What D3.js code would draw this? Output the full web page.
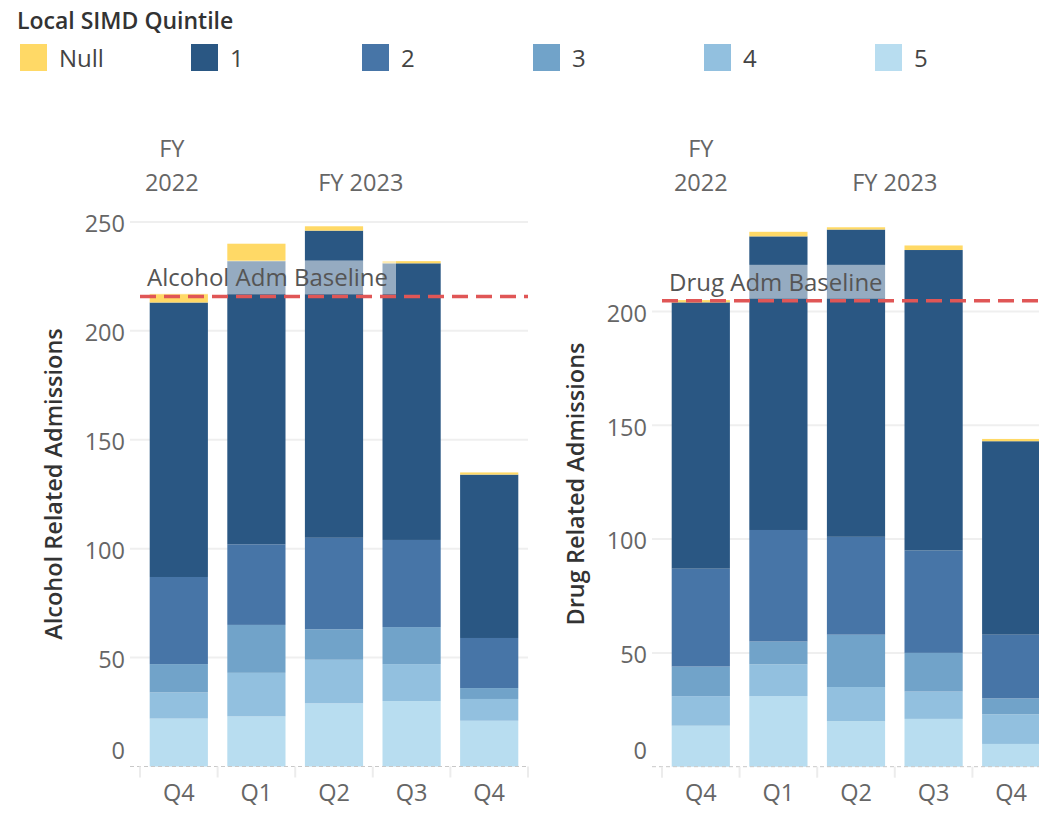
<!DOCTYPE html>
<html><head><meta charset="utf-8">
<script src="https://cdn.jsdelivr.net/npm/d3@7"></script>
<style>body{margin:0;background:#fff} svg{display:block} text{font-family:"Open Sans",sans-serif}</style>
</head><body><svg id="c" width="1039" height="818"></svg>
<script>
// ---- data ----
const quarters = ["Q4","Q1","Q2","Q3","Q4"];
const fiscalYears = ["FY 2022","FY 2023","FY 2023","FY 2023","FY 2023"];
const stackKeys = ["5","4","3","2","1","Null"]; // bottom to top
const legendKeys = ["Null","1","2","3","4","5"];
const legendColors = ["#ffd966","#2a5783","#4775a7","#71a3c9","#92c0df","#b8ddf0"];

const alcoholQ5   = [22, 23, 29, 30, 21];
const alcoholQ4   = [12, 20, 20, 17, 10];
const alcoholQ3   = [13, 22, 14, 17, 5];
const alcoholQ2   = [40, 37, 42, 40, 23];
const alcoholQ1   = [126, 130, 141, 127, 75];
const alcoholNull = [4, 8, 2, 1, 1];
const alcoholBaseline = 215.8;
const alcoholTicks = [0, 50, 100, 150, 200, 250];

const drugQ5   = [18, 31, 20, 21, 10];
const drugQ4   = [13, 14, 15, 12, 13];
const drugQ3   = [13, 10, 23, 17, 7];
const drugQ2   = [43, 49, 43, 45, 28];
const drugQ1   = [117, 129, 135, 132, 85];
const drugNull = [1, 2, 1, 2, 1];
const drugBaseline = 204.7;
const drugTicks = [0, 50, 100, 150, 200];

const color = d3.scaleOrdinal().domain(legendKeys).range(legendColors);
const svg = d3.select("#c");
const FS = 23.5;

// ---- legend ----
svg.append("text").attr("x", 17).attr("y", 29).attr("font-size", 23).attr("font-weight", 600)
  .attr("fill", "#333").text("Local SIMD Quintile");
const lx = d3.scalePoint().domain(legendKeys).range([20, 875]);
const lg = svg.append("g").selectAll("g").data(legendKeys).join("g")
  .attr("transform", d => `translate(${lx(d)},44)`);
lg.append("rect").attr("width", 27).attr("height", 27).attr("fill", d => color(d));
lg.append("text").attr("x", 39).attr("y", 23).attr("font-size", 24).attr("fill", "#444").text(d => d);

function buildRows(s5, s4, s3, s2, s1, sn) {
  return quarters.map((q, i) => ({i, "5": s5[i], "4": s4[i], "3": s3[i], "2": s2[i], "1": s1[i], "Null": sn[i]}));
}

function chart(cfg) {
  const rows = buildRows(...cfg.series);
  const x = d3.scaleBand().domain(d3.range(quarters.length)).range([cfg.x0, cfg.x1]).paddingInner(0.25).paddingOuter(0.125);
  const xb = d3.scaleBand().domain(d3.range(quarters.length)).range([cfg.x0, cfg.x1]);
  const y = d3.scaleLinear().domain([0, cfg.max]).range([cfg.y0, 204.5]);
  const g = svg.append("g");

  // gridlines
  g.selectAll(".grid").data(cfg.ticks.filter(t => t > 0)).join("line")
    .attr("x1", cfg.x0 - 10).attr("x2", cfg.x1).attr("y1", d => y(d)).attr("y2", d => y(d))
    .attr("stroke", "#efefef").attr("stroke-width", 2);
  // tick labels
  g.selectAll(".tl").data(cfg.ticks).join("text")
    .attr("x", cfg.x0 - 15).attr("y", d => y(d) + (d === 0 ? -16 : 2)).attr("dy", "0.35em")
    .attr("text-anchor", "end").attr("font-size", FS).attr("fill", "#666").text(d => d);
  // axis title
  g.append("text").attr("transform", `translate(${cfg.titleX},${484}) rotate(-90)`)
    .attr("text-anchor", "middle").attr("font-size", 23.5).attr("font-weight", 600).attr("fill", "#333").text(cfg.title);

  // stacked bars
  const stacked = d3.stack().keys(stackKeys)(rows);
  g.selectAll(".layer").data(stacked).join("g").attr("fill", d => color(d.key))
    .selectAll("rect").data(d => d).join("rect")
    .attr("x", d => x(d.data.i)).attr("width", x.bandwidth())
    .attr("y", d => y(d[1])).attr("height", d => y(d[0]) - y(d[1]));

  // baseline label with translucent box
  const by = y(cfg.baseline);
  const lab = g.append("text").attr("x", cfg.x0 + 7).attr("y", by - 10).attr("font-size", 24)
    .attr("fill", "#555").text(cfg.baseLabel);
  const bb = lab.node().getBBox();
  g.insert("rect", () => lab.node()).attr("x", cfg.x0).attr("y", by - 36).attr("width", bb.x + bb.width + 8 - cfg.x0)
    .attr("height", 34).attr("fill", "#fff").attr("fill-opacity", 0.5);
  // reference line
  g.append("line").attr("x1", cfg.x0).attr("x2", cfg.x1).attr("y1", by).attr("y2", by)
    .attr("stroke", "#e05656").attr("stroke-width", 3.5).attr("stroke-dasharray", "16,8");

  // bottom axis
  g.append("line").attr("x1", cfg.x0 - 10).attr("x2", cfg.x1).attr("y1", cfg.y0).attr("y2", cfg.y0)
    .attr("stroke", "#c8c8c8").attr("stroke-width", 1).attr("stroke-dasharray", "4,3");
  const seps = d3.range(quarters.length + 1).map(i => i < quarters.length ? xb(i) : cfg.x1);
  g.selectAll(".sep").data(seps).join("line")
    .attr("x1", d => d).attr("x2", d => d).attr("y1", cfg.y0).attr("y2", cfg.y0 + 11)
    .attr("stroke", "#ececec").attr("stroke-width", 2);
  g.selectAll(".ql").data(quarters).join("text")
    .attr("x", (d, i) => xb(i) + xb.bandwidth() / 2).attr("y", 801)
    .attr("text-anchor", "middle").attr("font-size", FS).attr("fill", "#666").text(d => d);

  // fiscal-year headers
  const fyGroups = d3.groups(fiscalYears.map((f, i) => ({f, i})), d => d.f);
  fyGroups.forEach(([f, items], k) => {
    const a = xb(items[0].i), b = xb(items[items.length - 1].i) + xb.bandwidth();
    const cx = (a + b) / 2 + cfg.hdrOff[k];
    if (items.length === 1) {
      const parts = f.split(" ");
      g.append("text").attr("x", cx).attr("y", 157).attr("text-anchor", "middle").attr("font-size", FS).attr("fill", "#666").text(parts[0]);
      g.append("text").attr("x", cx).attr("y", 191).attr("text-anchor", "middle").attr("font-size", FS).attr("fill", "#666").text(parts[1]);
    } else {
      g.append("text").attr("x", cx).attr("y", 191).attr("text-anchor", "middle").attr("font-size", FS).attr("fill", "#666").text(f);
    }
  });
}

chart({series: [alcoholQ5, alcoholQ4, alcoholQ3, alcoholQ2, alcoholQ1, alcoholNull], baseline: alcoholBaseline,
  ticks: alcoholTicks, max: 258, y0: 766.5, x0: 140, x1: 528, title: "Alcohol Related Admissions", titleX: 62,
  baseLabel: "Alcohol Adm Baseline", hdrOff: [-7, -12]});
chart({series: [drugQ5, drugQ4, drugQ3, drugQ2, drugQ1, drugNull], baseline: drugBaseline,
  ticks: drugTicks, max: 247, y0: 766.7, x0: 662, x1: 1050, title: "Drug Related Admissions", titleX: 584,
  baseLabel: "Drug Adm Baseline", hdrOff: [0, 0]});
</script></body></html>
